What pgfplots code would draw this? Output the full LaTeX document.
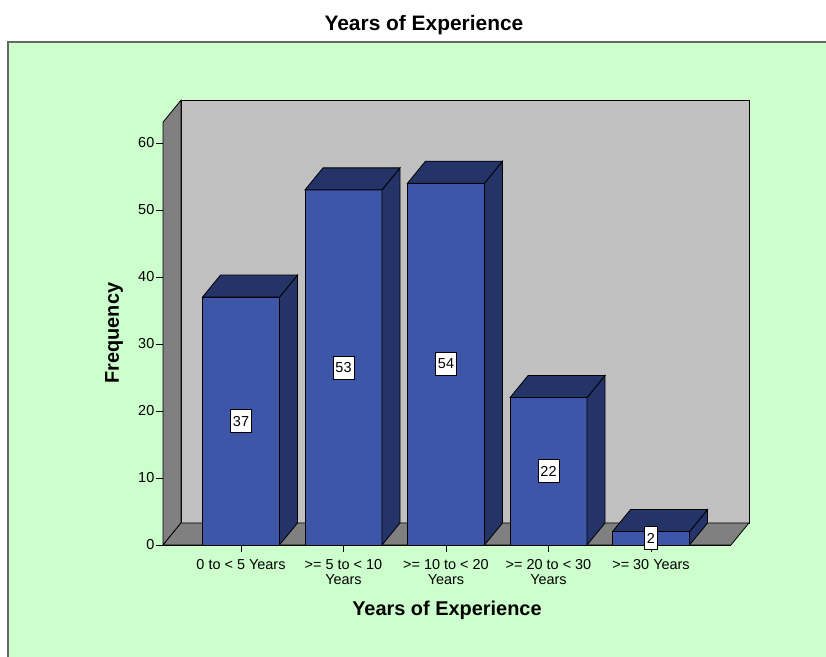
\documentclass[border=0pt]{standalone}
\usepackage{pgfplots}
\pgfplotsset{compat=1.18}
\usepackage{pgfplotstable}
\usepackage{fontspec}
\setmainfont{Liberation Sans}
\definecolor{panelgreen}{HTML}{CCFFCC}
\definecolor{frontblue}{HTML}{3D56A8}
\definecolor{darkblue}{HTML}{243468}
\definecolor{backgray}{HTML}{C0C0C0}
\definecolor{wallgray}{HTML}{808080}

% top and right side faces of a 3D bar, drawn at the bar's data point
\pgfdeclareplotmark{bar3d}{%
  \pgfmathsetlengthmacro\hh{\rawv*6.7bp}%
  \pgfsetlinewidth{0.8bp}%
  \pgfsetstrokecolor{black}%
  \pgfsetfillcolor{darkblue}%
  \pgfpathmoveto{\pgfpoint{38.5bp}{0pt}}%
  \pgfpathlineto{\pgfpoint{56.5bp}{22bp}}%
  \pgfpathlineto{\pgfpoint{56.5bp}{22bp-\hh}}%
  \pgfpathlineto{\pgfpoint{38.5bp}{-\hh}}%
  \pgfpathclose
  \pgfusepath{fill,stroke}%
  \pgfpathmoveto{\pgfpoint{-38.5bp}{0pt}}%
  \pgfpathlineto{\pgfpoint{-20.5bp}{22bp}}%
  \pgfpathlineto{\pgfpoint{56.5bp}{22bp}}%
  \pgfpathlineto{\pgfpoint{38.5bp}{0pt}}%
  \pgfpathclose
  \pgfusepath{fill,stroke}%
}

\pgfplotstableread{
x v
0 37
1 53
2 54
3 22
4 2
}\datatable

\begin{document}
\begin{tikzpicture}
\useasboundingbox (0,0) rectangle (826bp,657bp);
\fill[white] (0,0) rectangle (826bp,657bp);
\fill[panelgreen] (8bp,0) rectangle (826bp,615bp);
\draw[black!60, line width=2bp] (8bp,0) -- (8bp,615bp) -- (826bp,615bp);
\begin{axis}[
  at={(163bp,112bp)}, anchor=south west,
  x=102.5bp, y=6.7bp,
  xmin=-0.761, xmax=4.78, ymin=0, ymax=63.1,
  clip=false,
  axis x line=bottom, axis y line=left,
  axis line style={-, black, line width=0.8bp},
  tick align=outside, major tick length=7bp,
  tick style={black, line width=0.8bp},
  /pgf/number format/assume math mode=true,
  tick label style={font=\fontsize{14.5}{15}\selectfont, text=black},
  xtick={0,1,2,3,4},
  xticklabels={{0 to < 5 Years},{>= 5 to < 10\\Years},{>= 10 to < 20\\Years},{>= 20 to < 30\\Years},{>= 30 Years}},
  xticklabel style={align=center, inner sep=2bp, yshift=-5.5bp},
  ytick={0,10,20,30,40,50,60},
  yticklabel style={inner sep=1.5bp},
  title={Years of Experience},
  title style={font=\bfseries\fontsize{21}{24}\selectfont, at={(axis description cs:0.4595,1.2157)}, anchor=center},
  xlabel={Years of Experience},
  xlabel style={font=\bfseries\fontsize{20}{22}\selectfont, at={(axis description cs:0.5,-0.1537)}, anchor=center},
  ylabel={Frequency},
  ylabel style={font=\bfseries\fontsize{20}{22}\selectfont, at={(axis description cs:-0.0863,0.501)}, anchor=center},
]
% back wall, left wall, floor
\draw[fill=backgray, line width=0.8bp] ([shift={(18bp,22bp)}]rel axis cs:0,0) rectangle ([shift={(18bp,22bp)}]rel axis cs:1,1);
\draw[fill=wallgray, line width=0.8bp] (rel axis cs:0,0) -- (rel axis cs:0,1) -- ([shift={(18bp,22bp)}]rel axis cs:0,1) -- ([shift={(18bp,22bp)}]rel axis cs:0,0) -- cycle;
\draw[fill=wallgray, line width=0.8bp] (rel axis cs:0,0) -- (rel axis cs:1,0) -- ([shift={(18bp,22bp)}]rel axis cs:1,0) -- ([shift={(18bp,22bp)}]rel axis cs:0,0) -- cycle;
% front faces
\addplot[ybar, bar width=77bp, fill=frontblue, draw=black, line width=0.8bp] table[x=x,y=v] {\datatable};
% top and side faces
\addplot[scatter, only marks, mark=bar3d,
  visualization depends on={\thisrow{v} \as \rawv},
  scatter/@pre marker code/.code={\scope},
  scatter/@post marker code/.code={\endscope}] table[x=x,y=v] {\datatable};
% value labels
\addplot[draw=none, mark=none, nodes near coords,
  visualization depends on={\thisrow{v} \as \rawv},
  every node near coord/.style={anchor=center, yshift=-\rawv*3.35bp, fill=white, draw=black, line width=0.8bp, inner xsep=2.5bp, inner ysep=0pt, minimum height=23bp, font=\fontsize{14.5}{16}\selectfont, text=black}] table[x=x,y=v] {\datatable};
\end{axis}
\end{tikzpicture}
\end{document}
